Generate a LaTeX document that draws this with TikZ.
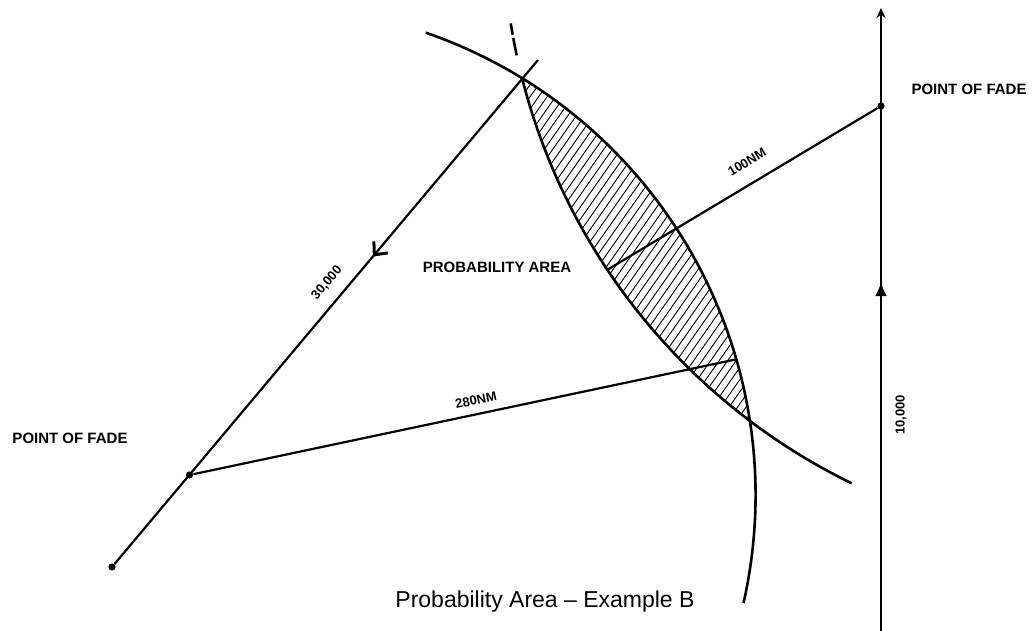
\documentclass[tikz,border=0pt]{standalone}
\usepackage{fontspec}
\setmainfont{Liberation Sans}
\usetikzlibrary{arrows.meta,decorations.markings}

% centres and radii of the two range circles (pixel units)
\def\cAx{266.5} \def\cAy{495.1} \def\rA{489.1}
\def\cBx{1123.9} \def\cBy{-74.8} \def\rB{621.0}

\begin{document}
\begin{tikzpicture}[
      x=0.5pt, y=-0.5pt,
      track/.style={line width=1.1pt},
      rangearc/.style={line width=1.3pt},
      hatch/.style={line width=0.45pt},
      fadedot/.style={circle,fill,inner sep=0pt,minimum size=3.6pt},
      lbl/.style={font=\fontsize{7.5}{9}\selectfont\bfseries},
      dist/.style={font=\fontsize{6.5}{8}\selectfont\bfseries},
      ttl/.style={font=\fontsize{11.5}{13}\selectfont},
      barbmid/.style={postaction={decorate},decoration={markings,
          mark=at position #1 with {\arrow[line width=1.5pt]{Straight Barb[length=5pt,width=9pt]}}}},
      headmid/.style={postaction={decorate},decoration={markings,
          mark=at position #1 with {\arrow{Latex[length=7pt,width=6pt]}}}}
    ]
    \useasboundingbox (0,0) rectangle (1033,631);

    \coordinate (ext) at (538,60);
    \node[fadedot] (tail) at (112,567) {};
    \node[fadedot] (fadeL) at (189.5,475) {};
    \coordinate (vbot) at (881,631);
    \coordinate (vtop) at (881,8);
    \node[fadedot] (fadeR) at (881,106) {};
    \coordinate (near) at (607,270);
    \coordinate (far) at (736.4,359.3);

    % hatched probability area
    \begin{scope}
      \clip plot[domain=-58.5:-8.71,samples=40] ({\cAx+\rA*cos(\x)},{\cAy+\rA*sin(\x)})
        -- plot[domain=127.02:165.76,samples=40] ({\cBx+\rB*cos(\x)},{\cBy+\rB*sin(\x)}) -- cycle;
      \foreach \h in {250,258.5,...,740}
        \draw[hatch] (\h,460) -- ++(300,-428);
    \end{scope}

    % range arcs
    \draw[rangearc] plot[domain=-71:12.76,samples=80] ({\cAx+\rA*cos(\x)},{\cAy+\rA*sin(\x)});
    \draw[rangearc] plot[domain=116:165.76,samples=80] ({\cBx+\rB*cos(\x)},{\cBy+\rB*sin(\x)});
    \draw[rangearc,dash pattern=on 9pt off 1.5pt] plot[domain=167.9:170.9,samples=10] ({\cBx+\rB*cos(\x)},{\cBy+\rB*sin(\x)});

    % tracks
    \draw[track,barbmid=0.39] (ext) -- (tail);
    \draw[track,headmid=0.56,-{Stealth[length=5pt,width=4.5pt]}] (vbot) -- (vtop);
    \draw[track] (fadeR) -- (near);
    \draw[track] (fadeL) -- (far);

    \node[lbl] (fadeRlbl) at (969,89) {POINT OF FADE};
    \node[lbl] (fadeLlbl) at (70,438) {POINT OF FADE};
    \node[lbl] (area) at (497,267) {PROBABILITY AREA};
    \node[dist,rotate=50] (spdL) at (327,283) {30,000};
    \node[dist,rotate=90] (spdR) at (901,415) {10,000};
    \node[dist,rotate=31] (rngR) at (747,162) {100NM};
    \node[dist,rotate=12] (rngL) at (476,400) {280NM};
    \node[ttl] (caption) at (545,602) {Probability Area -- Example B};

  \end{tikzpicture}
\end{document}
